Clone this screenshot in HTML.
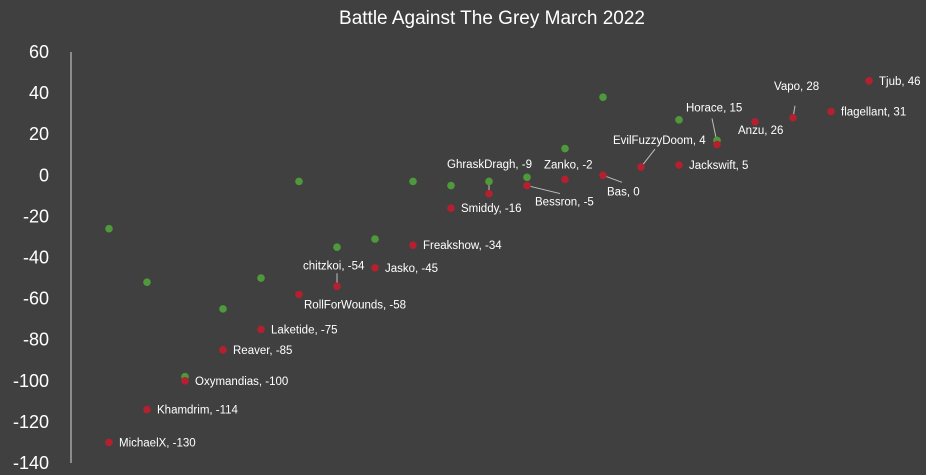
<!DOCTYPE html>
<html><head><meta charset="utf-8"><style>
html,body{margin:0;padding:0;background:#404040;}
svg{display:block;font-family:"Liberation Sans",sans-serif;}
</style></head><body>
<svg id="chart" width="926" height="475" viewBox="0 0 926 475">
<rect width="926" height="475" fill="#404040"/>
<text x="492" y="24" text-anchor="middle" fill="#ffffff" font-size="19">Battle Against The Grey March 2022</text>
<line x1="71" y1="52" x2="71" y2="463" stroke="#d9d9d9" stroke-width="1"/>
<g id="yticks"></g>
<g id="leaders"></g>
<g id="green"></g>
<g id="red"></g>
<g id="labels"></g>
</svg>
<script>
const names = ["MichaelX","Khamdrim","Oxymandias","Reaver","Laketide","RollForWounds","chitzkoi","Jasko","Freakshow","Smiddy","GhraskDragh","Bessron","Zanko","Bas","EvilFuzzyDoom","Jackswift","Horace","Anzu","Vapo","flagellant","Tjub"];
const redValues = [-130,-114,-100,-85,-75,-58,-54,-45,-34,-16,-9,-5,-2,0,4,5,15,26,28,31,46];
const greenValues = [-26,-52,-98,-65,-50,-3,-35,-31,-3,-5,-3,-1,13,38,null,27,17,null,null,null,null];
const yTicks = [60,40,20,0,-20,-40,-60,-80,-100,-120,-140];
const NS="http://www.w3.org/2000/svg";
const yMin=-140,yMax=60,yTop=52,yBot=463;
function yScale(v){return yBot-(v-yMin)/(yMax-yMin)*(yBot-yTop);}
function xScale(i){return 109+38*i;}
function mk(tag,attrs,parent){const e=document.createElementNS(NS,tag);for(const k in attrs)e.setAttribute(k,attrs[k]);parent.appendChild(e);return e;}
const yt=document.getElementById('yticks');
yTicks.forEach(t=>{
  const e=mk('text',{x:49,y:yScale(t)+6,'text-anchor':'end',fill:'#ffffff','font-size':'18'},yt);
  
  
  e.textContent=t;
});
const gg=document.getElementById('green');
greenValues.forEach((v,i)=>{
  if(v===null)return;
  const c=mk('circle',{cx:xScale(i),cy:yScale(v),r:3.8,fill:'#4e9a3a'},gg);
  
  
});
const rg=document.getElementById('red');
const lg=document.getElementById('labels');
const ld=document.getElementById('leaders');
// label placement offsets relative to point: [dx,dy,anchor,leader?]
const special={
 "GhraskDragh":[-42,-30,'start',[0,-16,0,-3]],
 "Bessron":[8,16,'start',[0,0,33,8]],
 "Zanko":[-21,-15,'start',null],
 "Bas":[4,16,'start',[0,0,19,7]],
 "EvilFuzzyDoom":[-28,-27,'start',[14,-18,0,0]],
 "Horace":[-31,-37,'start',[-5,-26,0,-2]],
 "Anzu":[-17,8,'start',null],
 "Vapo":[-19,-32,'start',[2,-12,0,0]],
 "chitzkoi":[-34,-21,'start',[0,-13,0,-2]],
 "RollForWounds":[5,10,'start',null]
};
redValues.forEach((v,i)=>{
  const x=xScale(i),y=yScale(v);
  const s=special[names[i]];
  let dx=10,dy=0;
  if(s){dx=s[0];dy=s[1];
    if(s[3]){const l=mk('line',{x1:x+s[3][0],y1:y+s[3][1],x2:x+s[3][2],y2:y+s[3][3],stroke:'#bfbfbf','stroke-width':1},ld);
      
      }
  }
  const c=mk('circle',{cx:x,cy:y,r:3.8,fill:'#b4202f'},rg);
  
  
  const t=mk('text',{x:x+dx,y:y+dy+4,fill:'#ffffff','font-size':'11.5'},lg);
  
  
  t.textContent=names[i]+", "+v;
});
</script>
</body></html>
